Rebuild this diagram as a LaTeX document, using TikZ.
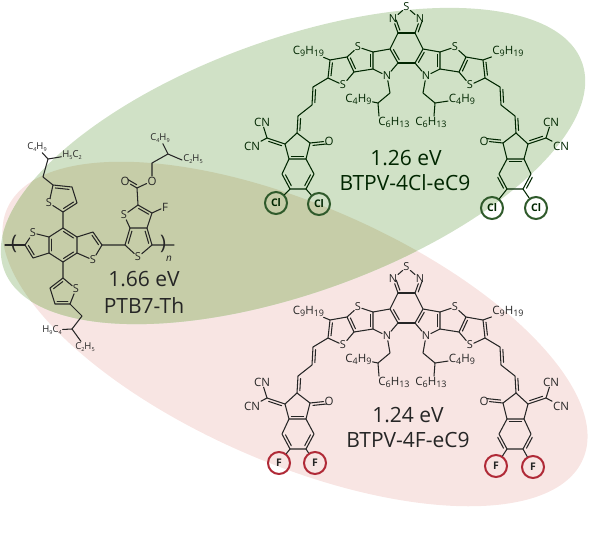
\documentclass[tikz,border=0pt]{standalone}
\usepackage{fontspec}
\setmainfont{Open Sans}
\usepackage{tikz}
\usetikzlibrary{calc}

\definecolor{greenblob}{HTML}{D0E1C6}
\definecolor{pinkblob}{HTML}{F8E5E3}
\definecolor{oliveblob}{HTML}{C6CDA8}
\definecolor{clring}{HTML}{2F5A2B}
\definecolor{fring}{HTML}{B02A37}

% subscripts: big ones on the acceptors, small ones on the polymer
\newcommand\bigsub[1]{\raisebox{-2.2pt}{\fontsize{9}{9}\selectfont #1}}
\newcommand\lowsub[1]{\raisebox{-2.4pt}{\fontsize{5.5}{6}\selectfont #1}}
\newcommand\bigalk[4]{#1\bigsub{#2}#3\bigsub{#4}}
\newcommand\lowalk[4]{#1\lowsub{#2}#3\lowsub{#4}}

\def\ringside{90}
\newcommand\ibond[2]{\draw[bond] ($(#1)!.14!(#2)!2.7pt!\ringside:(#2)$) -- ($(#1)!.86!(#2)!2.7pt!\ringside:(#2)$);}

% one half of the acceptor, #1 #2 #3 = x of the C9H19, C4H9, C6H13 labels
\newcommand\btpvwing[3]{
  \coordinate (bzt) at (398,33);
  \coordinate (bzl) at (390,49);
  \coordinate (bzb) at (398,63);
  \node[atom] (nt) at (393,19) {N};
  \coordinate (c1) at (373,52);
  \coordinate (c2) at (373,69);
  \coordinate (c3) at (347,57);
  \coordinate (c4) at (354,72);
  \coordinate (c5) at (330,60);
  \coordinate (c6) at (328,78);
  \node[atom] (s1) at (358,47) {S};
  \node[atom] (s2) at (343,85) {S};
  \node[atom] (n1) at (387,76) {N};
  \draw[bond] (bzt) -- (bzl) -- (bzb) -- (n1) -- (c2) -- (c1) -- (bzl);
  \draw[bond] (bzt) -- (nt);
  \draw[bond] (c1) -- (s1) -- (c3) -- (c4) -- (c2);
  \draw[bond] (c3) -- (c5) -- (c6) -- (s2) -- (c4);
  \ibond{bzl}{bzb} \ibond{nt}{bzt} \ibond{c2}{c1} \ibond{c3}{c4} \ibond{c5}{c6}
  % nonyl and branched alkyl
  \node[alk] (c9) at (#1,51) {\bigalk{C}{9}{H}{19}};
  \draw[bond] (c5) -- (c9);
  \coordinate (r1) at (390,93);
  \coordinate (r2) at (378,103);
  \coordinate (r3) at (379,116);
  \node[alk] (c4h9) at (#2,99) {\bigalk{C}{4}{H}{9}};
  \node[alk] (c6h13) at (#3,122) {\bigalk{C}{6}{H}{13}};
  \draw[bond] (n1) -- (r1) -- (r2) -- (r3);
  \draw[bond] (r2) -- (c4h9);
  % vinylene bridge
  \coordinate (h1) at (313,87);
  \coordinate (h2) at (312,105);
  \coordinate (h3) at (298,116);
  \coordinate (p1) at (297,133);
  \draw[bond] (c6) -- (h1) -- (h2) -- (h3) -- (p1);
  \ibond{h1}{h2} \ibond{h3}{p1}
  % end group
  \coordinate (p2) at (310,143);
  \coordinate (p3) at (306,159);
  \coordinate (p4) at (289,159);
  \coordinate (p5) at (285,144);
  \coordinate (b1) at (282,174);
  \coordinate (b2) at (290,189);
  \coordinate (b3) at (306,189);
  \coordinate (b4) at (314,174);
  \coordinate (q) at (267,138);
  \node[alk] (o1) at (329,141) {O};
  \node[alk] (cn1) at (262,122) {CN};
  \node[alk] (cn2) at (252,146) {CN};
  \draw[bond] (p1) -- (p2) -- (p3) -- (p4) -- (p5) -- (p1);
  \draw[bond] (p4) -- (b1) -- (b2) -- (b3) -- (b4) -- (p3);
  \draw[bond] (p2) -- (o1);
  \draw[bond] (p5) -- (q) -- (cn1);
  \draw[bond] (q) -- (cn2);
  \ibond{p4}{p3} \ibond{b1}{b2} \ibond{b3}{b4} \ibond{p5}{q} \ibond{o1}{p2}
}

% whole acceptor, #1 = prefix, #2 = yshift
\newcommand\btpvmol[2]{
  \begin{scope}[yshift=#2]
    \def\ringside{90}
    \begin{scope}[name prefix=#1l-]
      \btpvwing{308.5}{358.5}{394}
    \end{scope}
    \def\ringside{-90}
    \begin{scope}[name prefix=#1r-,xshift=813pt,xscale=-1]
      \btpvwing{305}{351}{382}
    \end{scope}
    \def\ringside{90}
    \node[atom] (#1ss) at (406.5,7) {S};
    \draw[bond] (#1l-nt) -- (#1ss) -- (#1r-nt);
    \draw[bond] (#1l-bzt) -- (#1r-bzt);
    \draw[bond] (#1l-bzb) -- (#1r-bzb);
  \end{scope}
}

\begin{document}
\begin{tikzpicture}[x=1pt,y=-1pt,
    bond/.style={line width=1.05pt,line cap=round,line join=round,draw=bondcol},
    atom/.style={inner sep=0.6pt,font=\fontsize{11}{11}\selectfont,text=bondcol},
    alk/.style={inner sep=0.8pt,font=\fontsize{11.5}{12}\selectfont,text=bondcol},
    poly/.style={inner sep=0.8pt,font=\fontsize{9.5}{10}\selectfont,text=bondcol},
    energy/.style={font=\fontsize{21}{22}\selectfont,text=bondcol},
    halring/.style={circle,draw,line width=2pt,minimum size=22pt,inner sep=0pt,
                    font=\bfseries\fontsize{10.5}{10}\selectfont,text=bondcol}]
  \useasboundingbox (0,0) rectangle (612,533);

  % the two blobs and their overlap
  \fill[pinkblob,rotate around={-23.5:(295,334)}] (295,334) ellipse [x radius=314pt,y radius=129pt];
  \fill[greenblob,rotate around={19.7:(293,166)}] (293,166) ellipse [x radius=307pt,y radius=127pt];
  \begin{scope}
    \clip[rotate around={19.7:(293,166)}] (293,166) ellipse [x radius=307pt,y radius=127pt];
    \fill[oliveblob,rotate around={-23.5:(295,334)}] (295,334) ellipse [x radius=314pt,y radius=129pt];
  \end{scope}

  % upper acceptor
  \colorlet{bondcol}{black!75!green!60!black}
  \btpvmol{a}{0pt}
  \node[halring,draw=clring] (cl1) at (276,203) {Cl};
  \node[halring,draw=clring] (cl2) at (319,204) {Cl};
  \node[halring,draw=clring] (cl3) at (492,208) {Cl};
  \node[halring,draw=clring] (cl4) at (536,208) {Cl};
  \draw[bond] (al-b2) -- (cl1);
  \draw[bond] (al-b3) -- (cl2);
  \draw[bond] (ar-b3) -- (cl3);
  \draw[bond] (ar-b2) -- (cl4);
  \node[energy] (gapa) at (406,158) {1.26 eV};
  \node[energy] (namea) at (405,183) {BTPV-4Cl-eC9};

  % lower acceptor
  \colorlet{bondcol}{black!85}
  \btpvmol{b}{-260pt}
  \node[halring,draw=fring] (fl1) at (279,463) {F};
  \node[halring,draw=fring] (fl2) at (315,463) {F};
  \node[halring,draw=fring] (fl3) at (496,466) {F};
  \node[halring,draw=fring] (fl4) at (533,467) {F};
  \draw[bond] (bl-b2) -- (fl1);
  \draw[bond] (bl-b3) -- (fl2);
  \draw[bond] (br-b3) -- (fl3);
  \draw[bond] (br-b2) -- (fl4);
  \node[energy] (gapb) at (408,415) {1.24 eV};
  \node[energy] (nameb) at (408,440) {BTPV-4F-eC9};

  % polymer, benzodithiophene
  \coordinate (t) at (63,228);
  \coordinate (ul) at (49,237);
  \coordinate (ll) at (49,253);
  \coordinate (bt) at (63,262);
  \coordinate (lr) at (77,253);
  \coordinate (ur) at (77,237);
  \coordinate (a1) at (25,245);
  \coordinate (d1) at (33,258);
  \coordinate (e1) at (93,232);
  \coordinate (e2) at (102,245);
  \node[atom] (s3) at (33,233) {S};
  \node[atom] (s4) at (93,260) {S};
  \coordinate (endl) at (5,245);
  \draw[bond] (t) -- (ul) -- (ll) -- (bt) -- (lr) -- (ur) -- (t);
  \draw[bond] (ul) -- (s3) -- (a1) -- (d1) -- (ll);
  \draw[bond] (ur) -- (e1) -- (e2) -- (s4) -- (lr);
  \draw[bond] (endl) -- (a1);
  \ibond{ur}{t} \ibond{ul}{ll} \ibond{bt}{lr} \ibond{a1}{d1} \ibond{e2}{e1}

  % side thiophenes
  \coordinate (th1) at (53,185);
  \coordinate (th2) at (72,187);
  \coordinate (th3) at (77,203);
  \coordinate (th4) at (63,212);
  \node[atom] (s5) at (49,203) {S};
  \coordinate (lh1) at (63,278);
  \coordinate (lh2) at (50,288);
  \coordinate (lh3) at (55,304);
  \coordinate (lh4) at (70,304);
  \node[atom] (s6) at (76,289) {S};
  \draw[bond] (t) -- (th4) -- (th3) -- (th2) -- (th1) -- (s5) -- (th4);
  \draw[bond] (bt) -- (lh1) -- (lh2) -- (lh3) -- (lh4) -- (s6) -- (lh1);
  \ibond{th2}{th1} \ibond{th4}{th3} \ibond{lh1}{lh2} \ibond{lh3}{lh4}

  % side chains
  \coordinate (u1a) at (43,177);
  \coordinate (u1b) at (48,159);
  \node[poly] (c4top) at (37,147) {\lowalk{C}{4}{H}{9}};
  \node[poly] (c2top) at (72,155) {\lowalk{H}{5}{C}{2}};
  \draw[bond] (th1) -- (u1a) -- (u1b) -- (c4top);
  \draw[bond] (u1b) -- (c2top);
  \coordinate (u2a) at (82,316);
  \coordinate (u2b) at (72,329);
  \node[poly] (c4low) at (52,330) {\lowalk{H}{9}{C}{4}};
  \node[poly] (c2low) at (85,347) {\lowalk{C}{2}{H}{5}};
  \draw[bond] (lh4) -- (u2a) -- (u2b) -- (c4low);
  \draw[bond] (u2b) -- (c2low);

  % thienothiophene with ester and fluorine
  \coordinate (v1) at (125,245);
  \coordinate (v2) at (152,245);
  \coordinate (u1) at (130,228);
  \coordinate (u4) at (147,228);
  \coordinate (u3) at (152,213);
  \coordinate (u2) at (138,205);
  \node[atom] (s7) at (124,215) {S};
  \node[atom] (s8) at (138,257) {S};
  \node[alk] (ff) at (165,207) {F};
  \coordinate (endr) at (174,245);
  \draw[bond] (e2) -- (v1) -- (s8) -- (v2) -- (endr);
  \draw[bond] (v1) -- (u1) -- (u4) -- (v2);
  \draw[bond] (u1) -- (s7) -- (u2) -- (u3) -- (u4);
  \draw[bond] (u3) -- (ff);
  \ibond{u3}{u2} \ibond{u1}{v1} \ibond{v2}{u4}
  \coordinate (est) at (137,188);
  \node[alk] (o2) at (125,181) {O};
  \node[alk] (o3) at (152,181) {O};
  \coordinate (w1) at (152,163);
  \coordinate (w2) at (168,154);
  \coordinate (w3) at (182,160);
  \node[poly] (c4est) at (160,138) {\lowalk{C}{4}{H}{9}};
  \node[poly] (c2est) at (193,159) {\lowalk{C}{2}{H}{5}};
  \draw[bond] (u2) -- (est) -- (o3) -- (w1) -- (w2) -- (w3);
  \draw[bond] (w2) -- (c4est);
  \draw[bond] (est) -- (o2);
  \ibond{o2}{est}

  % repeat unit
  \node[font=\fontsize{20}{20}\selectfont,text=bondcol] (parl) at (14,244) {(};
  \node[font=\fontsize{20}{20}\selectfont,text=bondcol] (parr) at (163,244) {)};
  \node[poly,font=\itshape\fontsize{10}{10}\selectfont] (nn) at (169,259) {n};
  \node[energy] (gapc) at (144,279) {1.66 eV};
  \node[energy] (namec) at (144,306) {PTB7-Th};
\end{tikzpicture}
\end{document}
